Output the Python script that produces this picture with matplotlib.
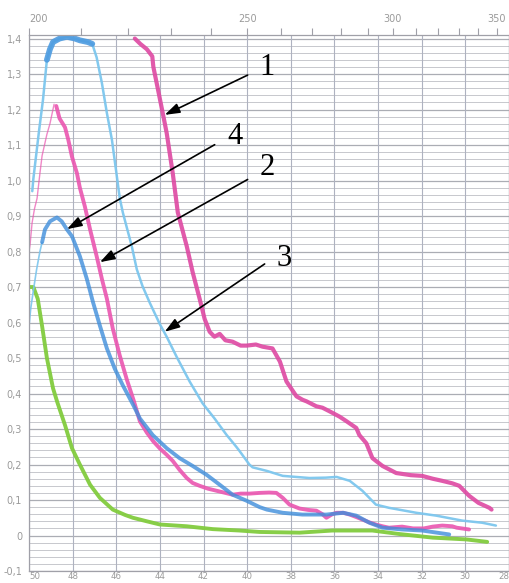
import numpy as np
import matplotlib
matplotlib.use("Agg")
import matplotlib.pyplot as plt

# ---------------- data (wavenumber, 10^3 cm^-1 ; absorbance) ----------------
k1 = [45.15, 44.9, 44.6, 44.35, 44.3, 44.1, 43.87, 43.69, 43.41, 43.18, 42.77, 42.5,
      42.18, 41.95, 41.72, 41.5, 41.26, 41.0, 40.67, 40.3, 40.03, 39.6, 39.3, 38.84,
      38.5, 38.2, 37.74, 37.45, 37.28, 36.83, 36.55, 36.23, 35.77, 35.45, 35.0, 34.86,
      34.54, 34.26, 33.8, 33.17, 32.5, 31.98, 31.5, 31.06, 30.6, 30.28, 29.83, 29.4,
      28.9, 28.8]
a1 = [1.40, 1.385, 1.37, 1.35, 1.32, 1.26, 1.19, 1.134, 1.02, 0.91, 0.815, 0.742,
      0.667, 0.61, 0.574, 0.56, 0.568, 0.55, 0.546, 0.535, 0.535, 0.538, 0.532, 0.527,
      0.49, 0.434, 0.392, 0.382, 0.378, 0.364, 0.36, 0.35, 0.335, 0.322, 0.303, 0.283,
      0.26, 0.218, 0.196, 0.176, 0.17, 0.168, 0.16, 0.154, 0.147, 0.14, 0.112, 0.092,
      0.078, 0.073]

# curve 2: faint rising part, then the main trace
k2_rise = [50.0, 49.95, 49.86, 49.75, 49.63, 49.5, 49.4, 49.18, 49.04, 48.85]
a2_rise = [0.80, 0.82, 0.88, 0.92, 0.95, 1.02, 1.07, 1.13, 1.16, 1.215]
k2 = [48.75, 48.6, 48.45, 48.35, 48.2, 48.03, 47.8, 47.67, 47.44, 47.2, 46.9, 46.66,
      46.43, 46.16, 45.84, 45.52, 45.2, 44.92, 44.6, 44.3, 44.0, 43.7, 43.41, 43.1,
      42.77, 42.5, 42.18, 41.8, 41.4, 41.0, 40.67, 40.3, 39.9, 39.43, 39.0, 38.66,
      38.37, 38.06, 37.6, 37.2, 36.83, 36.55, 36.37, 36.1, 35.9, 35.6, 35.3, 35.0,
      34.72, 34.4, 34.1, 33.8, 33.5, 33.1, 32.9, 32.4, 31.9, 31.5, 31.06, 30.6, 30.4,
      29.83]
a2 = [1.21, 1.175, 1.16, 1.15, 1.115, 1.067, 1.02, 0.98, 0.927, 0.862, 0.787, 0.723,
      0.667, 0.583, 0.507, 0.44, 0.38, 0.322, 0.29, 0.265, 0.245, 0.228, 0.21, 0.185,
      0.162, 0.148, 0.14, 0.132, 0.126, 0.12, 0.115, 0.118, 0.118, 0.12, 0.121, 0.12,
      0.106, 0.087, 0.076, 0.072, 0.07, 0.06, 0.05, 0.06, 0.064, 0.064, 0.059, 0.052,
      0.045, 0.037, 0.031, 0.026, 0.022, 0.024, 0.025, 0.02, 0.02, 0.025, 0.028, 0.026,
      0.022, 0.017]

k3 = [49.85, 49.8, 49.54, 49.36, 49.18, 49.04, 48.9, 48.6, 48.26, 47.9, 47.67, 47.3,
      47.1, 46.9, 46.66, 46.43, 46.2, 45.97, 45.84, 45.7, 45.29, 45.06, 44.8, 44.46,
      44.0, 43.69, 43.23, 42.63, 42.04, 41.5, 40.94, 40.5, 40.35, 39.9, 39.75, 39.1,
      38.37, 37.15, 36.4, 35.9, 35.3, 34.72, 34.1, 33.5, 32.25, 31.34, 30.15, 29.23,
      28.6]
a3 = [0.97, 1.005, 1.14, 1.227, 1.34, 1.37, 1.39, 1.40, 1.405, 1.40, 1.395, 1.39,
      1.385, 1.347, 1.275, 1.19, 1.115, 1.01, 0.95, 0.91, 0.815, 0.75, 0.703, 0.655,
      0.595, 0.56, 0.503, 0.433, 0.372, 0.33, 0.283, 0.25, 0.238, 0.2, 0.192, 0.182,
      0.168, 0.162, 0.163, 0.165, 0.154, 0.126, 0.087, 0.078, 0.064, 0.056, 0.042, 0.036,
      0.028]

k4_rise = [50.0, 49.92, 49.8, 49.65, 49.5, 49.4]
a4_rise = [0.59, 0.64, 0.69, 0.75, 0.80, 0.826]
k4 = [49.4, 49.27, 49.04, 48.72, 48.5, 48.26, 48.03, 47.67, 47.35, 47.07, 46.75, 46.43,
      46.07, 45.7, 45.5, 45.2, 44.92, 44.33, 43.69, 43.1, 42.5, 41.86, 41.26, 40.67,
      40.03, 39.43, 39.1, 38.37, 37.47, 36.37, 35.6, 35.0, 34.4, 33.8, 32.9, 31.98,
      30.74]
a4 = [0.826, 0.862, 0.885, 0.896, 0.885, 0.862, 0.843, 0.787, 0.723, 0.658, 0.591, 0.527,
      0.47, 0.423, 0.40, 0.365, 0.33, 0.283, 0.246, 0.218, 0.196, 0.171, 0.143, 0.115,
      0.098, 0.08, 0.073, 0.064, 0.059, 0.059, 0.064, 0.056, 0.036, 0.022, 0.017, 0.014,
      0.003]

k5 = [49.95, 49.8, 49.6, 49.4, 49.18, 48.9, 48.7, 48.35, 48.03, 47.67, 47.2, 46.75,
      46.16, 45.6, 45.24, 44.6, 44.0, 42.77, 41.58, 40.35, 39.43, 37.6, 36.1, 34.26,
      33.0, 31.5, 29.96, 29.0]
a5 = [0.70, 0.70, 0.667, 0.59, 0.50, 0.415, 0.375, 0.311, 0.246, 0.2, 0.143, 0.106,
      0.073, 0.058, 0.05, 0.04, 0.031, 0.026, 0.018, 0.014, 0.01, 0.008, 0.014, 0.014,
      0.004, -0.006, -0.011, -0.018]

bottom_ticks = [50, 48, 46, 44, 42, 40, 38, 36, 34, 32, 30, 28]
top_major = [200, 250, 300, 350]
top_minor = [210, 220, 230, 240, 260, 270, 280, 290, 310, 320, 330, 340]
y_major = [1.4, 1.3, 1.2, 1.1, 1.0, 0.9, 0.8, 0.7, 0.6, 0.5, 0.4, 0.3, 0.2, 0.1, 0.0, -0.1]
y_labels = ["1,4", "1,3", "1,2", "1,1", "1,0", "0,9", "0,8", "0,7", "0,6", "0,5",
            "0,4", "0,3", "0,2", "0,1", "0", "-0,1"]

# annotations: label text, label position, arrow tail, arrow tip (data coords)
ann_labels = ["1", "4", "2", "3"]
ann_text_pos = [(39.07, 1.319), (40.58, 1.123), (39.07, 1.036), (38.29, 0.779)]
ann_tail = [(39.98, 1.297), (41.49, 1.101), (39.98, 1.003), (39.2, 0.765)]
ann_tip = [(43.78, 1.185), (48.26, 0.863), (46.75, 0.77), (43.78, 0.574)]

# ---------------- styling ----------------
PINK = "#ea55b0"
PINK_DARK = "#de48a2"
LBLUE = "#7cc6ee"
BLUE = "#3f8edb"
GREEN = "#82cc3e"
GRID = "#a2a4ac"
TXT = "#9a9a9a"

fig = plt.figure(figsize=(5.09, 5.83), dpi=100)
ax = fig.add_axes([29 / 509, 1 - 571 / 583, 1 - 29 / 509, (571 - 35) / 583])
ax.set_xlim(50, 28)
ax.set_ylim(-0.10, 1.41)

# grid
for v in np.arange(-0.1, 1.4001, 0.02):
    major = abs(round(v * 10) - v * 10) < 1e-6
    ax.axhline(v, color=GRID, lw=0.9 if major else 0.6, alpha=0.9 if major else 0.7, zorder=0)
for v in bottom_ticks:
    ax.axvline(v, color="#aeb2c0", lw=0.8, zorder=0)

kw = dict(solid_capstyle="round", solid_joinstyle="round")
ax.plot(k5, a5, color=GREEN, lw=2.8, alpha=0.95, **kw)
ax.plot(k3, a3, color=LBLUE, lw=1.8, alpha=0.95, **kw)
# thick blotchy plateau of curve 3
plateau = [i for i, kk in enumerate(k3) if 49.3 >= kk >= 46.95]
ax.plot([k3[i] for i in plateau], [a3[i] for i in plateau], color="#4d9be0", lw=4.2, alpha=0.9, **kw)
ax.plot(k2_rise, a2_rise, color=PINK, lw=1.0, alpha=0.7, **kw)
ax.plot(k2, a2, color=PINK, lw=2.8, alpha=0.9, **kw)
ax.plot(k4_rise, a4_rise, color=LBLUE, lw=1.2, alpha=0.9, **kw)
ax.plot(k4, a4, color=BLUE, lw=2.8, alpha=0.8, **kw)
ax.plot(k1, a1, color=PINK_DARK, lw=3.0, alpha=0.9, **kw)

# annotations
for lab, tp, tail, tip in zip(ann_labels, ann_text_pos, ann_tail, ann_tip):
    ax.annotate("", xy=tip, xytext=tail,
                arrowprops=dict(arrowstyle="-|>,head_length=0.9,head_width=0.3",
                                color="black", lw=1.2, shrinkA=0, shrinkB=0))
    ax.text(tp[0], tp[1], lab, family="Liberation Serif", fontsize=22,
            ha="center", va="center", color="black")

# axes
for s in ax.spines.values():
    s.set_color("#a0a0a8")
    s.set_linewidth(0.9)
ax.set_xticks(bottom_ticks)
ax.set_xticklabels([str(t) for t in bottom_ticks])
ax.set_yticks(y_major)
ax.set_yticklabels(y_labels)
ax.tick_params(axis="both", length=0, labelcolor=TXT)
ax.tick_params(axis="y", pad=5, labelsize=7)
ax.tick_params(axis="x", pad=0.5, labelsize=6.2)
xl = ax.get_xticklabels()
xl[0].set_ha("left")
xl[-1].set_ha("right")

sec = ax.secondary_xaxis("top", functions=(lambda x: 1e4 / np.where(x == 0, 1e-9, x),
                                            lambda x: 1e4 / np.where(x == 0, 1e-9, x)))
sec.set_xticks(top_major)
sec.set_xticklabels([str(t) for t in top_major])
sec.set_xticks(top_minor, minor=True)
sec.tick_params(which="both", direction="out", length=5, width=0.8, color="#a0a0a8",
                labelsize=7, labelcolor=TXT, pad=3)
sec.spines["top"].set_visible(False)
tl = sec.get_xticklabels()
tl[0].set_ha("left")

fig.savefig("out.png", dpi=100, facecolor="white")
